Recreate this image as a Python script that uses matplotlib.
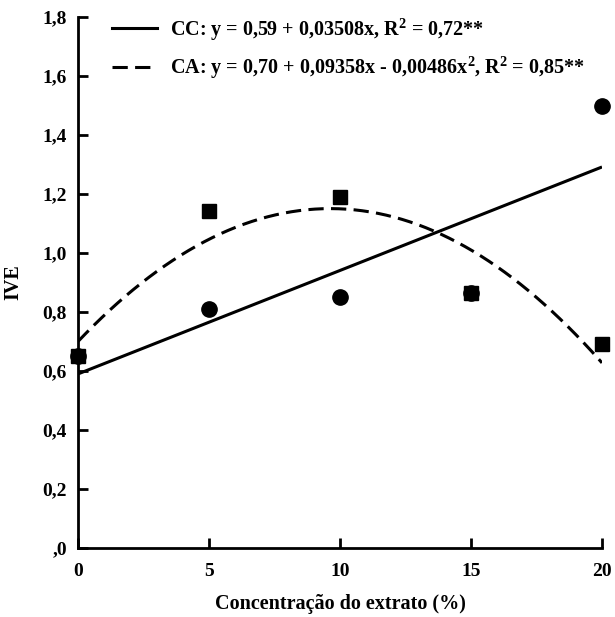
import numpy as np
import matplotlib
matplotlib.use('Agg')
import matplotlib.pyplot as plt
from matplotlib.lines import Line2D

plt.rcParams['font.family'] = 'Liberation Serif'
plt.rcParams['font.weight'] = 'bold'
plt.rcParams['mathtext.fontset'] = 'custom'
plt.rcParams['mathtext.rm'] = 'Liberation Serif:bold'
plt.rcParams['mathtext.it'] = 'Liberation Serif:bold'
plt.rcParams['mathtext.bf'] = 'Liberation Serif:bold'

# observed points
conc = [0, 5, 10, 15, 20]
ive_cc = [0.65, 0.81, 0.852, 0.866, 1.50]
ive_ca = [0.65, 1.143, 1.19, 0.866, 0.693]

# fitted equations from the legend
cc_coef = [0.59, 0.03508]
ca_coef = [0.70, 0.09358, -0.00486]

xticks = [0, 5, 10, 15, 20]
yticks = [0.0, 0.2, 0.4, 0.6, 0.8, 1.0, 1.2, 1.4, 1.6, 1.8]
ytick_labels = [',0', '0,2', '0,4', '0,6', '0,8', '1,0', '1,2', '1,4', '1,6', '1,8']

fig = plt.figure(figsize=(6.15, 6.17), dpi=100)
ax = fig.add_axes([78/615, 1 - 548/617, 524/615, 531/617])

xs = np.linspace(0, 20, 200)
ax.plot(xs, cc_coef[0] + cc_coef[1]*xs, color='black', lw=2.2, solid_capstyle='butt')
ax.plot(xs, ca_coef[0] + ca_coef[1]*xs + ca_coef[2]*xs**2, color='black', lw=2.2,
        dashes=(5, 2.4))

ax.plot(conc, ive_cc, 'o', color='black', ms=11, clip_on=False, zorder=5)
ax.plot(conc, ive_ca, 's', color='black', ms=9.5, clip_on=False, zorder=5)

ax.set_xlim(0, 20)
ax.set_ylim(0, 1.8)
ax.set_xticks(xticks)
ax.set_xticklabels([str(t) for t in xticks])
ax.set_yticks(yticks)
ax.set_yticklabels(ytick_labels)
ax.tick_params(direction='in', length=7, width=2, labelsize=14)
ax.tick_params(axis='x', pad=11)
ax.tick_params(axis='y', pad=8)
for s in ['top', 'right']:
    ax.spines[s].set_visible(False)
for s in ['left', 'bottom']:
    ax.spines[s].set_linewidth(2)

ax.set_xlabel('Concentração do extrato (%)', fontsize=14.5, fontweight='bold', labelpad=10)
ax.set_ylabel('IVE', fontsize=14.5, fontweight='bold', labelpad=14)

handles = [Line2D([], [], color='black', lw=2.2),
           Line2D([], [], color='black', lw=2.2, dashes=(5, 2.4))]
labels = [r'CC: y = 0,59 + 0,03508x, R$^{2}$ = 0,72**',
          r'CA: y = 0,70 + 0,09358x - 0,00486x$^{2}$, R$^{2}$ = 0,85**']
ax.legend(handles, labels, loc='upper left', bbox_to_anchor=(0.03, 1.035),
          frameon=False, fontsize=14.5, handlelength=2.25, handletextpad=0.65,
          labelspacing=0.6)

fig.savefig('out.png', dpi=100)
